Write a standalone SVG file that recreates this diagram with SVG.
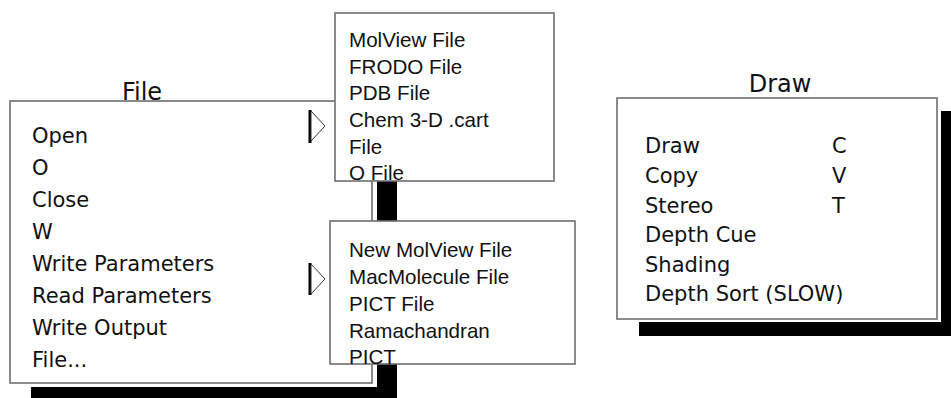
<svg xmlns="http://www.w3.org/2000/svg" width="951" height="398" viewBox="0 0 951 398">
<style>
.box{fill:#fff;stroke:#6e6e6e;stroke-width:1.6}
.shadow{fill:#000}
.dv{font-family:"DejaVu Sans",sans-serif;font-size:21px;fill:#111}
.title{font-family:"DejaVu Sans",sans-serif;font-size:24px;fill:#111}
.ar{font-family:"Liberation Sans",Arial,sans-serif;font-size:20.6px;fill:#111}
.tri{fill:#fff;stroke:#333;stroke-width:1}
.bar{stroke:#000;stroke-width:3}
</style>
<g id="file-menu">
  <text class="title" x="142" y="100" text-anchor="middle">File</text>
  <rect class="shadow" x="377" y="116" width="20" height="282"/>
  <rect class="shadow" x="31" y="387" width="366" height="11"/>
  <rect class="box" x="10" y="101" width="362" height="282"/>
  <text class="dv" x="32" y="143">Open</text>
  <text class="dv" x="32" y="175">O</text>
  <text class="dv" x="32" y="207">Close</text>
  <text class="dv" x="32" y="239">W</text>
  <text class="dv" x="32" y="271">Write Parameters</text>
  <text class="dv" x="32" y="303">Read Parameters</text>
  <text class="dv" x="32" y="335">Write Output</text>
  <text class="dv" x="32" y="367">File...</text>
</g>
<g id="connectors">
  <line class="bar" x1="310" y1="110" x2="310" y2="143"/>
  <polygon class="tri" points="311,111 325,126 311,141"/>
  <line class="bar" x1="310" y1="263" x2="310" y2="295"/>
  <polygon class="tri" points="311,264 325,279 311,294"/>
</g>
<g id="open-submenu">
  <rect class="box" x="335" y="13" width="219" height="168"/>
  <text class="ar" x="349" y="47">MolView File</text>
  <text class="ar" x="349" y="73.5">FRODO File</text>
  <text class="ar" x="349" y="100">PDB File</text>
  <text class="ar" x="349" y="127">Chem 3-D .cart</text>
  <text class="ar" x="349" y="153.5">File</text>
  <text class="ar" x="349" y="180">O File</text>
</g>
<g id="write-submenu">
  <rect class="box" x="330" y="221" width="245" height="143"/>
  <text class="ar" x="349" y="257">New MolView File</text>
  <text class="ar" x="349" y="284">MacMolecule File</text>
  <text class="ar" x="349" y="311">PICT File</text>
  <text class="ar" x="349" y="338">Ramachandran</text>
  <text class="ar" x="349" y="364">PICT</text>
</g>
<g id="draw-menu">
  <text class="title" x="780" y="92" text-anchor="middle">Draw</text>
  <rect class="shadow" x="941" y="111" width="10" height="225"/>
  <rect class="shadow" x="639" y="322" width="312" height="14"/>
  <rect class="box" x="617" y="98" width="320" height="221"/>
  <text class="dv" x="645" y="153">Draw</text>
  <text class="dv" x="832" y="153">C</text>
  <text class="dv" x="645" y="183">Copy</text>
  <text class="dv" x="832" y="183">V</text>
  <text class="dv" x="645" y="213">Stereo</text>
  <text class="dv" x="832" y="213">T</text>
  <text class="dv" x="645" y="242">Depth Cue</text>
  <text class="dv" x="645" y="272">Shading</text>
  <text class="dv" x="645" y="301">Depth Sort (SLOW)</text>
</g>
</svg>
